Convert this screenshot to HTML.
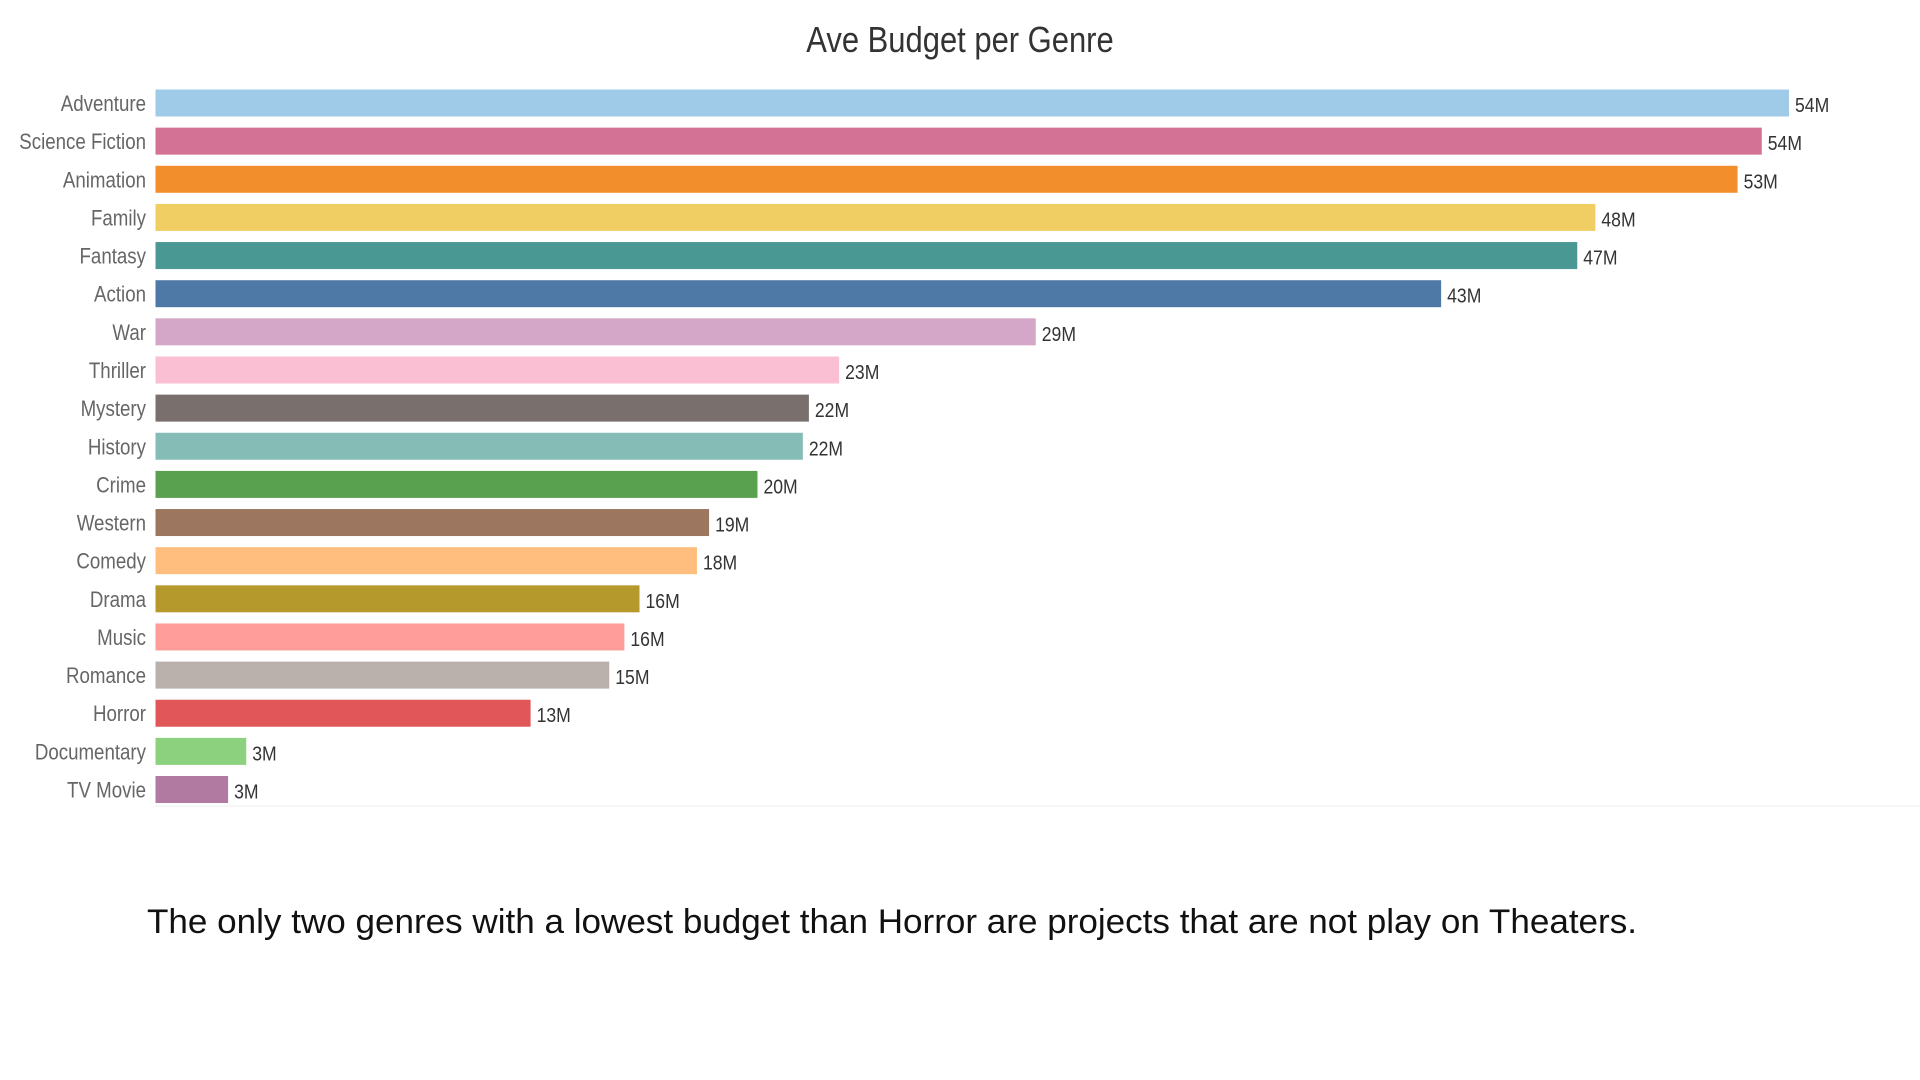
<!DOCTYPE html>
<html><head><meta charset="utf-8">
<style>
html,body{margin:0;padding:0;background:#fff;width:1920px;height:1080px;overflow:hidden}
svg text{font-family:"Liberation Sans",sans-serif}
</style></head>
<body>
<svg id="chart" width="1920" height="1080">
<text transform="translate(960,52) scale(0.86,1)" x="0" y="0" text-anchor="middle" font-size="36" fill="#333">Ave Budget per Genre</text>
<line x1="155" y1="806" x2="1920" y2="806" stroke="#eee" stroke-width="1"/>
<g id="bars"></g>
<text x="147" y="933" font-size="34" fill="#111" textLength="1490" lengthAdjust="spacingAndGlyphs">The only two genres with a lowest budget than Horror are projects that are not play on Theaters.</text>
</svg>
<script>
const categories = ["Adventure","Science Fiction","Animation","Family","Fantasy","Action","War","Thriller","Mystery","History","Crime","Western","Comedy","Drama","Music","Romance","Horror","Documentary","TV Movie"];
const values = [54.0,53.1,52.3,47.6,47.0,42.5,29.1,22.6,21.6,21.4,19.9,18.3,17.9,16.0,15.5,15.0,12.4,3.0,2.4];
const valueLabels = ["54M","54M","53M","48M","47M","43M","29M","23M","22M","22M","20M","19M","18M","16M","16M","15M","13M","3M","3M"];
const colors = ["#a0cbe8","#d37295","#f28e2b","#f1ce63","#499894","#4e79a7","#d4a6c8","#fabfd2","#79706e","#86bcb6","#59a14f","#9d7660","#ffbe7d","#b6992d","#ff9d9a","#bab0ac","#e15759","#8cd17d","#b07aa1"];
const x0 = 155.5, pxPerM = 30.25, top0 = 89.5, pitch = 38.14, bh = 27;
const xScale = v => x0 + v * pxPerM;
const yScale = i => top0 + i * pitch;
const g = document.getElementById('bars');
const NS = "http://www.w3.org/2000/svg";
categories.forEach((c, i) => {
  const y = yScale(i);
  const r = document.createElementNS(NS, 'rect');
  r.setAttribute('x', x0); r.setAttribute('y', y);
  r.setAttribute('width', xScale(values[i]) - x0); r.setAttribute('height', bh);
  r.setAttribute('fill', colors[i]);
  
  
  g.appendChild(r);
  const t = document.createElementNS(NS, 'text');
  t.setAttribute('transform', 'translate(146,' + (y + bh / 2 + 8) + ') scale(0.85,1)');
  t.setAttribute('text-anchor', 'end'); t.setAttribute('font-size', '22'); t.setAttribute('fill', '#666');
  t.textContent = c;
  
  
  g.appendChild(t);
  const v = document.createElementNS(NS, 'text');
  v.setAttribute('transform', 'translate(' + (xScale(values[i]) + 6) + ',' + (y + bh / 2 + 9) + ') scale(0.88,1)');
  v.setAttribute('font-size', '20'); v.setAttribute('fill', '#333');
  v.textContent = valueLabels[i];
  
  
  g.appendChild(v);
});
</script>
</body></html>
